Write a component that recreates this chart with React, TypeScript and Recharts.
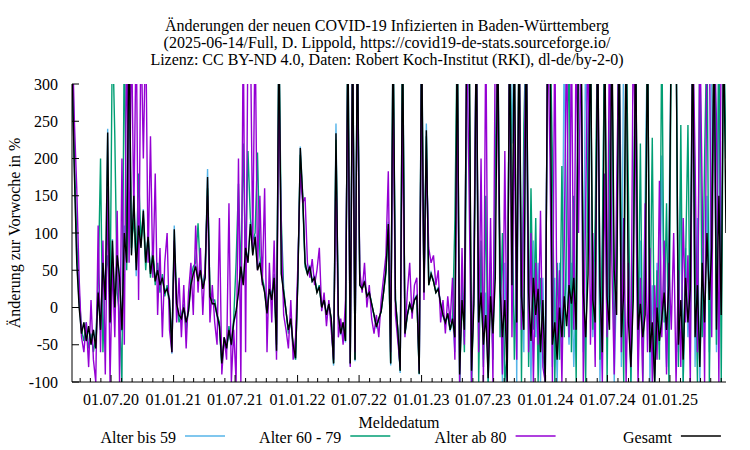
import { Line, LineChart, XAxis, YAxis } from 'recharts';

const FONT = '"Liberation Serif", "Times New Roman", serif';

const titleLines = [
  'Änderungen der neuen COVID-19 Infizierten in Baden-Württemberg',
  '(2025-06-14/Full, D. Lippold, https://covid19-de-stats.sourceforge.io/',
  'Lizenz: CC BY-ND 4.0, Daten: Robert Koch-Institut (RKI), dl-de/by-2-0)',
];

// first sample date, sample spacing and end of the time axis
const firstDate = '2020-03-08';
const stepDays = 7;
const lastDate = '2025-06-15';

const xTickLabels = ['01.07.20', '01.01.21', '01.07.21', '01.01.22', '01.07.22', '01.01.23', '01.07.23', '01.01.24', '01.07.24', '01.01.25'];
const yTicks = [-100, -50, 0, 50, 100, 150, 200, 250, 300];

const seriesKeys = ['bis59', 'a6079', 'ab80', 'gesamt'];
const seriesNames = ['Alter bis 59', 'Alter 60 - 79', 'Alter ab 80', 'Gesamt'];
const seriesColors = ['#56b4e9', '#009e73', '#9400d3', '#000000'];

// change vs. previous week in %, one value per sample
const bis59 = [
  400, 190, 65, 5, -35, -20, -45, -28, -50, -30,
  -55, 22, -30, 62, 12, 240, -22, 92, 0, 72,
  42, -32, 110, 62, 390, 72, 152, 42, 115, 82,
  132, 62, 97, 47, 72, 37, 52, 32, 42, 22,
  27, 12, -62, 110, 5, -12, -17, 0, -22, -5,
  32, 47, 57, 37, 52, 27, 42, 186, 17, 5,
  5, -12, -27, -78, -42, -57, -32, -52, -22, -5,
  22, 57, 32, 82, 62, 115, 72, 97, 52, 62,
  37, 22, -10, 27, 12, 42, -60, 390, 47, 22,
  -5, -32, -17, -52, -70, 42, 216, 152, 62, 47,
  57, 37, 42, 22, 30, 0, 12, -12, 5, -17,
  -78, 247, -12, -37, -22, -47, 390, -78, 390, -72,
  390, 32, 27, 37, 17, 22, 5, -12, -28, -17,
  -5, 22, 52, 115, -78, 390, 12, -32, -88, 390,
  -37, -12, 5, -5, 12, 17, -90, 390, 22, 247,
  32, 47, 37, 22, 27, 5, -12, -22, -10, -32,
  -10, -60, 380, -100, 30, -40, 380, 300, -100, 20,
  380, -40, 60, -70, 20, -100, 40, -60, 120, 380,
  50, -100, 60, -100, 380, 220, 380, -100, 380, 40,
  -60, 380, 50, -100, 90, -40, 60, -100, 40, -100,
  380, 380, -80, 40, -100, 60, -60, 380, 30, -50,
  60, -80, 30, 380, 380, -60, 380, 100, 380, -40,
  50, 380, -100, 70, 380, -30, 60, 380, -100, 40,
  380, -80, 380, 380, 50, -100, 40, 380, -70, 90,
  -60, 150, 380, -100, 30, -100, 60, -50, 204, 10,
  -80, 100, 380, 380, 380, -60, 180, -100, 80, -40,
  60, 380, -80, 120, -100, 80, -40, 150, -60, 380,
  380, -60, 380, 40, 380, 380,
];

const a6079 = [
  300, 200, 90, 20, -30, -45, -20, -55, -35, -60,
  -40, 30, 200, -60, 40, 70, 0, 380, 230, 20,
  -10, -100, 380, 50, 300, 80, 120, 60, 180, 90,
  120, 50, 100, 40, 80, 30, 60, 20, 45, 15,
  30, 0, -40, 80, 10, -20, -10, 5, -30, 0,
  40, 55, 60, 113, 45, 30, 50, 160, 20, 10,
  10, -10, -20, -80, -40, -55, -25, -50, -15, 60,
  166, 40, 220, 60, 210, 120, 90, 100, 208, 70,
  40, 25, -5, 30, 15, 45, -50, 350, 118, 25,
  -5, -35, -15, -55, -70, 45, 205, 145, 55, 45,
  50, 35, 40, 20, 30, 0, 12, -10, 5, -15,
  -75, 225, -15, -35, -20, -45, 370, -75, 370, -70,
  370, 30, 25, 35, 15, 20, 5, -10, -25, -15,
  -5, 20, 45, 105, -75, 360, 10, -30, -85, 360,
  -35, -10, 5, -5, 10, 15, -89, 360, 20, 230,
  30, 45, 35, 20, 25, 5, -10, -20, -8, -30,
  -20, 117, 380, -100, 40, -60, 250, 380, -100, 30,
  380, -100, 90, -80, 150, -100, 60, -70, 200, 380,
  -40, 100, -100, -60, 380, 180, -70, 60, 380, -100,
  245, 380, -80, 160, -30, 120, -100, 40, -60, -100,
  380, 380, 204, -100, 60, -70, 190, -40, 100, 380,
  -60, 150, -100, 380, 380, 60, -100, 230, 380, -30,
  120, 380, -70, 90, 380, -100, 200, 380, -50, 60,
  380, 100, -100, 380, 150, -100, 80, 380, -60, 220,
  -100, 60, 380, -30, 228, -100, 50, -70, 380, -20,
  140, -100, 380, 380, 380, -80, 245, -100, 60, 245,
  -60, 380, 90, -100, 380, -40, 200, 380, -100, 150,
  380, -50, 380, -100, 380, 200,
];

const ab80 = [
  380, 250, 160, 40, -40, -60, -20, -80, 10, -70,
  -100, 110, -60, 90, -90, 160, -100, 60, -40, 130,
  -100, 200, -50, 380, 60, 380, 120, 380, 10, 380,
  200, 380, 60, 230, 40, 180, -10, 80, -40, 60,
  100, -30, -60, 90, -20, 40, -40, 30, -55, 20,
  60, -10, 110, 20, 80, -10, 60, 150, -20, 30,
  -20, -50, 120, -90, -40, -70, 140, -100, -30, -100,
  200, -100, 380, -60, 380, 380, 80, 380, 50, 150,
  30, 160, -60, 60, -20, 90, -70, 300, 100, -10,
  -30, -55, 10, -70, -40, 60, 180, 140, 148, 60,
  40, 65, 30, 50, 80, -5, 20, -25, 10, -30,
  -70, 190, -40, -15, -50, 10, 320, -80, 350, -60,
  330, 50, 20, 60, 0, 30, -15, -35, -10, -40,
  10, 40, 70, 183, -60, 300, -10, -45, -80, 274,
  -40, 20, 60, -15, 30, 40, -85, 330, 10, 200,
  80, 60, 70, 30, 50, -20, 10, -35, 15, -20,
  40, -70, 300, -100, 80, -50, 380, 150, -100, 60,
  380, -60, 200, -100, 380, -80, 120, -100, 380, 250,
  60, -90, 210, -100, 380, -40, 270, -70, 380, -30,
  150, 380, -60, 100, -100, 60, -50, 130, -80, -100,
  380, 200, -100, 380, -60, 50, -100, 90, 380, -40,
  380, -30, 380, 100, 380, -100, 140, 380, -50, 100,
  -80, 380, 40, -100, 180, -40, 380, 60, -90, 150,
  380, -60, 120, -100, 60, -80, 380, 200, -100, 40,
  -100, 140, -60, 80, -100, 30, -70, 170, -40, 90,
  -90, 60, -30, 100, -100, 50, -80, 120, -20, 70,
  -100, 380, 200, -60, 380, 150, -100, 380, 380, -40,
  380, 250, -100, 380, 300, 380,
];

const gesamt = [
  330, 180, 60, 0, -35, -20, -45, -25, -50, -30,
  -55, 20, -30, 60, 10, 235, -20, 90, 0, 70,
  40, -30, 100, 60, 380, 70, 150, 50, 110, 80,
  130, 60, 95, 45, 70, 35, 50, 30, 40, 20,
  25, 10, -60, 105, 5, -10, -15, 0, -20, -5,
  30, 45, 55, 35, 50, 25, 40, 175, 15, 5,
  5, -10, -25, -75, -40, -55, -30, -50, -20, -5,
  20, 55, 30, 80, 60, 112, 70, 95, 50, 60,
  35, 20, -8, 25, 10, 40, -58, 380, 45, 20,
  -5, -30, -15, -50, -68, 40, 214, 150, 60, 45,
  55, 35, 40, 20, 28, 0, 10, -10, 5, -15,
  -75, 234, -10, -35, -20, -45, 380, -75, 380, -70,
  380, 30, 25, 35, 15, 20, 5, -10, -26, -15,
  -5, 20, 50, 112, -75, 380, 10, -30, -85, 380,
  -35, -10, 5, -5, 10, 15, -89, 380, 20, 238,
  30, 45, 35, 20, 25, 5, -10, -20, -8, -30,
  -15, -40, 380, -90, 10, -30, 380, 380, -85, 5,
  380, -20, 20, -50, -10, -95, 15, -35, 40, 380,
  25, -40, 10, -100, 380, 30, 380, -20, 380, 15,
  -30, 380, 20, -45, 40, -10, 25, -60, 10, -100,
  380, 380, -50, -20, -70, 0, -40, 15, -25, 30,
  5, 40, -30, 380, 380, 20, -40, 45, 380, 10,
  -20, 380, 30, -60, 380, 15, -30, 380, 50, -10,
  380, -40, 20, 380, -20, -80, 10, 380, -30, 5,
  -40, -10, 380, -60, -20, -100, 0, -45, -15, 20,
  -30, 30, 380, 380, 380, -50, 10, -70, 40, -20,
  25, 380, -40, 30, -80, 60, -20, 100, 10, 80,
  380, -30, 150, -10, 380, 100,
];

const DAY_MS = 86400000;
const EPOCH = Date.UTC(2020, 0, 1);
const isoToDay = (iso: string) => Math.round((Date.parse(iso + 'T00:00:00Z') - EPOCH) / DAY_MS);
const labelToDay = (label: string) => {
  const [d, m, y] = label.split('.').map(Number);
  return Math.round((Date.UTC(2000 + y, m - 1, d) - EPOCH) / DAY_MS);
};

const xDomain = [isoToDay(firstDate), isoToDay(lastDate)];
const majorTicks = xTickLabels.map(labelToDay);
const labelByDay = new Map(majorTicks.map((d, i) => [d, xTickLabels[i]]));

const monthTicks: number[] = [];
for (let y = 2020; y <= 2025; y++) {
  for (let m = 0; m < 12; m++) {
    const d = Math.round((Date.UTC(y, m, 1) - EPOCH) / DAY_MS);
    if (d > xDomain[0] && d < xDomain[1]) monthTicks.push(d);
  }
}

const columns = [bis59, a6079, ab80, gesamt];
const data = gesamt.map((_, i) => {
  const row: Record<string, number> = { day: xDomain[0] + i * stepDays };
  seriesKeys.forEach((k, s) => {
    row[k] = columns[s][i];
  });
  return row;
});

function BottomTick({ x, y, payload }: any) {
  const label = labelByDay.get(payload.value);
  return (
    <g>
      <line x1={x} x2={x} y1={y} y2={y - (label ? 7 : 4)} stroke="#000" />
      {label && (
        <text x={x} y={y + 23} textAnchor="middle" fontFamily={FONT} fontSize={16} fill="#000">
          {label}
        </text>
      )}
    </g>
  );
}

function TopTick({ x, y, payload }: any) {
  const major = labelByDay.has(payload.value);
  return <line x1={x} x2={x} y1={y} y2={y + (major ? 7 : 4)} stroke="#000" />;
}

export default function App() {
  return (
    <div style={{ position: 'absolute', left: 0, top: 0, width: 750, height: 450, background: '#fff' }}>
      <LineChart width={750} height={450} data={data} margin={{ top: 84, right: 24, bottom: 38, left: 0 }}>
        <XAxis
          xAxisId="bottom"
          dataKey="day"
          type="number"
          domain={xDomain}
          allowDataOverflow
          ticks={monthTicks}
          interval={0}
          height={30}
          tickSize={0}
          tickMargin={0}
          tickLine={false}
          tick={BottomTick}
          axisLine={{ stroke: '#000' }}
        />
        <XAxis
          xAxisId="top"
          orientation="top"
          dataKey="day"
          type="number"
          domain={xDomain}
          allowDataOverflow
          ticks={monthTicks}
          interval={0}
          height={0}
          tickSize={0}
          tickMargin={0}
          tickLine={false}
          tick={TopTick}
          axisLine={{ stroke: '#000' }}
        />
        <YAxis
          yAxisId="left"
          type="number"
          domain={[-100, 300]}
          allowDataOverflow
          ticks={yTicks}
          interval={0}
          width={72}
          tickSize={-7}
          tickMargin={21}
          tickLine={{ stroke: '#000' }}
          axisLine={{ stroke: '#000' }}
          tick={{ fill: '#000', fontSize: 16, fontFamily: FONT }}
        />
        <YAxis
          yAxisId="right"
          orientation="right"
          type="number"
          domain={[-100, 300]}
          allowDataOverflow
          ticks={yTicks}
          interval={0}
          width={0}
          tickSize={-7}
          tick={false}
          tickLine={{ stroke: '#000' }}
          axisLine={{ stroke: '#000' }}
        />
        {seriesKeys.map((k, s) => (
          <Line
            key={k}
            xAxisId="bottom"
            yAxisId="left"
            dataKey={k}
            name={seriesNames[s]}
            stroke={seriesColors[s]}
            strokeWidth={1.4}
            dot={false}
            activeDot={false}
            type="linear"
            isAnimationActive={false}
          />
        ))}
      </LineChart>
      <svg width={750} height={450} style={{ position: 'absolute', left: 0, top: 0, pointerEvents: 'none' }}>
        <g fontFamily={FONT} fontSize={16} fill="#000">
          {titleLines.map((t, i) => (
            <text key={t} x={387} y={31 + i * 17} textAnchor="middle">
              {t}
            </text>
          ))}
          <text transform="translate(20,233) rotate(-90)" textAnchor="middle">
            Änderung zur Vorwoche in %
          </text>
          <text x={399} y={428} textAnchor="middle">
            Meldedatum
          </text>
          {seriesNames.map((n, s) => {
            const end = 176 + s * 165.3;
            return (
              <g key={n}>
                <text x={end} y={443} textAnchor="end">
                  {n}
                </text>
                <line x1={end + 9} x2={end + 49} y1={436} y2={436} stroke={seriesColors[s]} strokeWidth={1.5} />
              </g>
            );
          })}
        </g>
      </svg>
    </div>
  );
}
